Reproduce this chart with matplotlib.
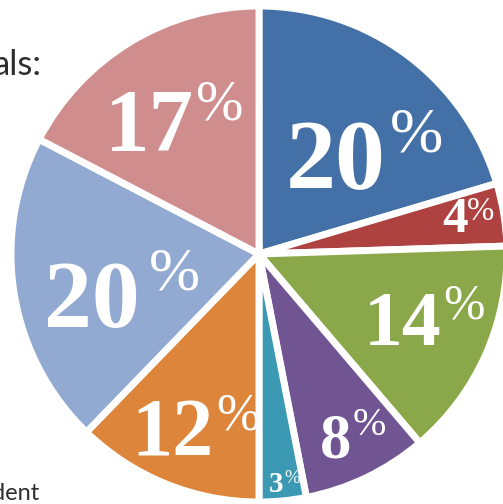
import matplotlib
matplotlib.use("Agg")
import matplotlib.pyplot as plt

# slice shares, clockwise from 12 o'clock
valores = [20, 4, 14, 8, 3, 12, 20, 17]
rotulos = ["20", "4", "14", "8", "3", "12", "20", "17"]
cores = ["#4371a7", "#ad4240", "#8aa74a", "#705592", "#3c99b3",
         "#dd853a", "#92aad2", "#d08d8d"]

# label layout in pixel coords (y from top): number centre x, baseline y,
# % left x, % top y, number size in pt
rot_x = [336, 455, 403, 336, 276, 172, 92, 149]
rot_y = [188, 232, 345, 457, 492, 455, 327, 150]
pct_x = [390, 467, 443, 353, 284, 216, 149, 196]
pct_y = [108, 197, 283, 407, 470, 393, 247, 79]
tam = [72, 37, 56, 45, 21, 59, 69, 64]

W, H = 503, 504
fig = plt.figure(figsize=(W / 100, H / 100), dpi=100)
ax = fig.add_axes([0, 0, 1, 1])

ax.pie(valores, colors=cores, startangle=90, counterclock=False,
       center=(259, H - 254), radius=248,
       wedgeprops=dict(edgecolor="white", linewidth=5))

ax.set_xlim(0, W)
ax.set_ylim(0, H)
ax.set_aspect("equal")
ax.axis("off")

for i in range(len(valores)):
    ax.text(rot_x[i], H - rot_y[i], rotulos[i], ha="center", va="baseline",
            fontsize=tam[i], fontweight="bold", color="white",
            family="Liberation Serif")
    ax.text(pct_x[i], H - pct_y[i], "%", ha="left", va="top",
            fontsize=tam[i] * 0.64, color="white",
            family="Liberation Serif")

ax.text(42, H - 75, "als:", ha="right", va="baseline", fontsize=25,
        color="#2e2e2e", family="Lato")
ax.text(39, H - 500, "dent", ha="right", va="baseline", fontsize=17,
        color="#2e2e2e", family="Lato")

fig.savefig("out.png", dpi=100)
